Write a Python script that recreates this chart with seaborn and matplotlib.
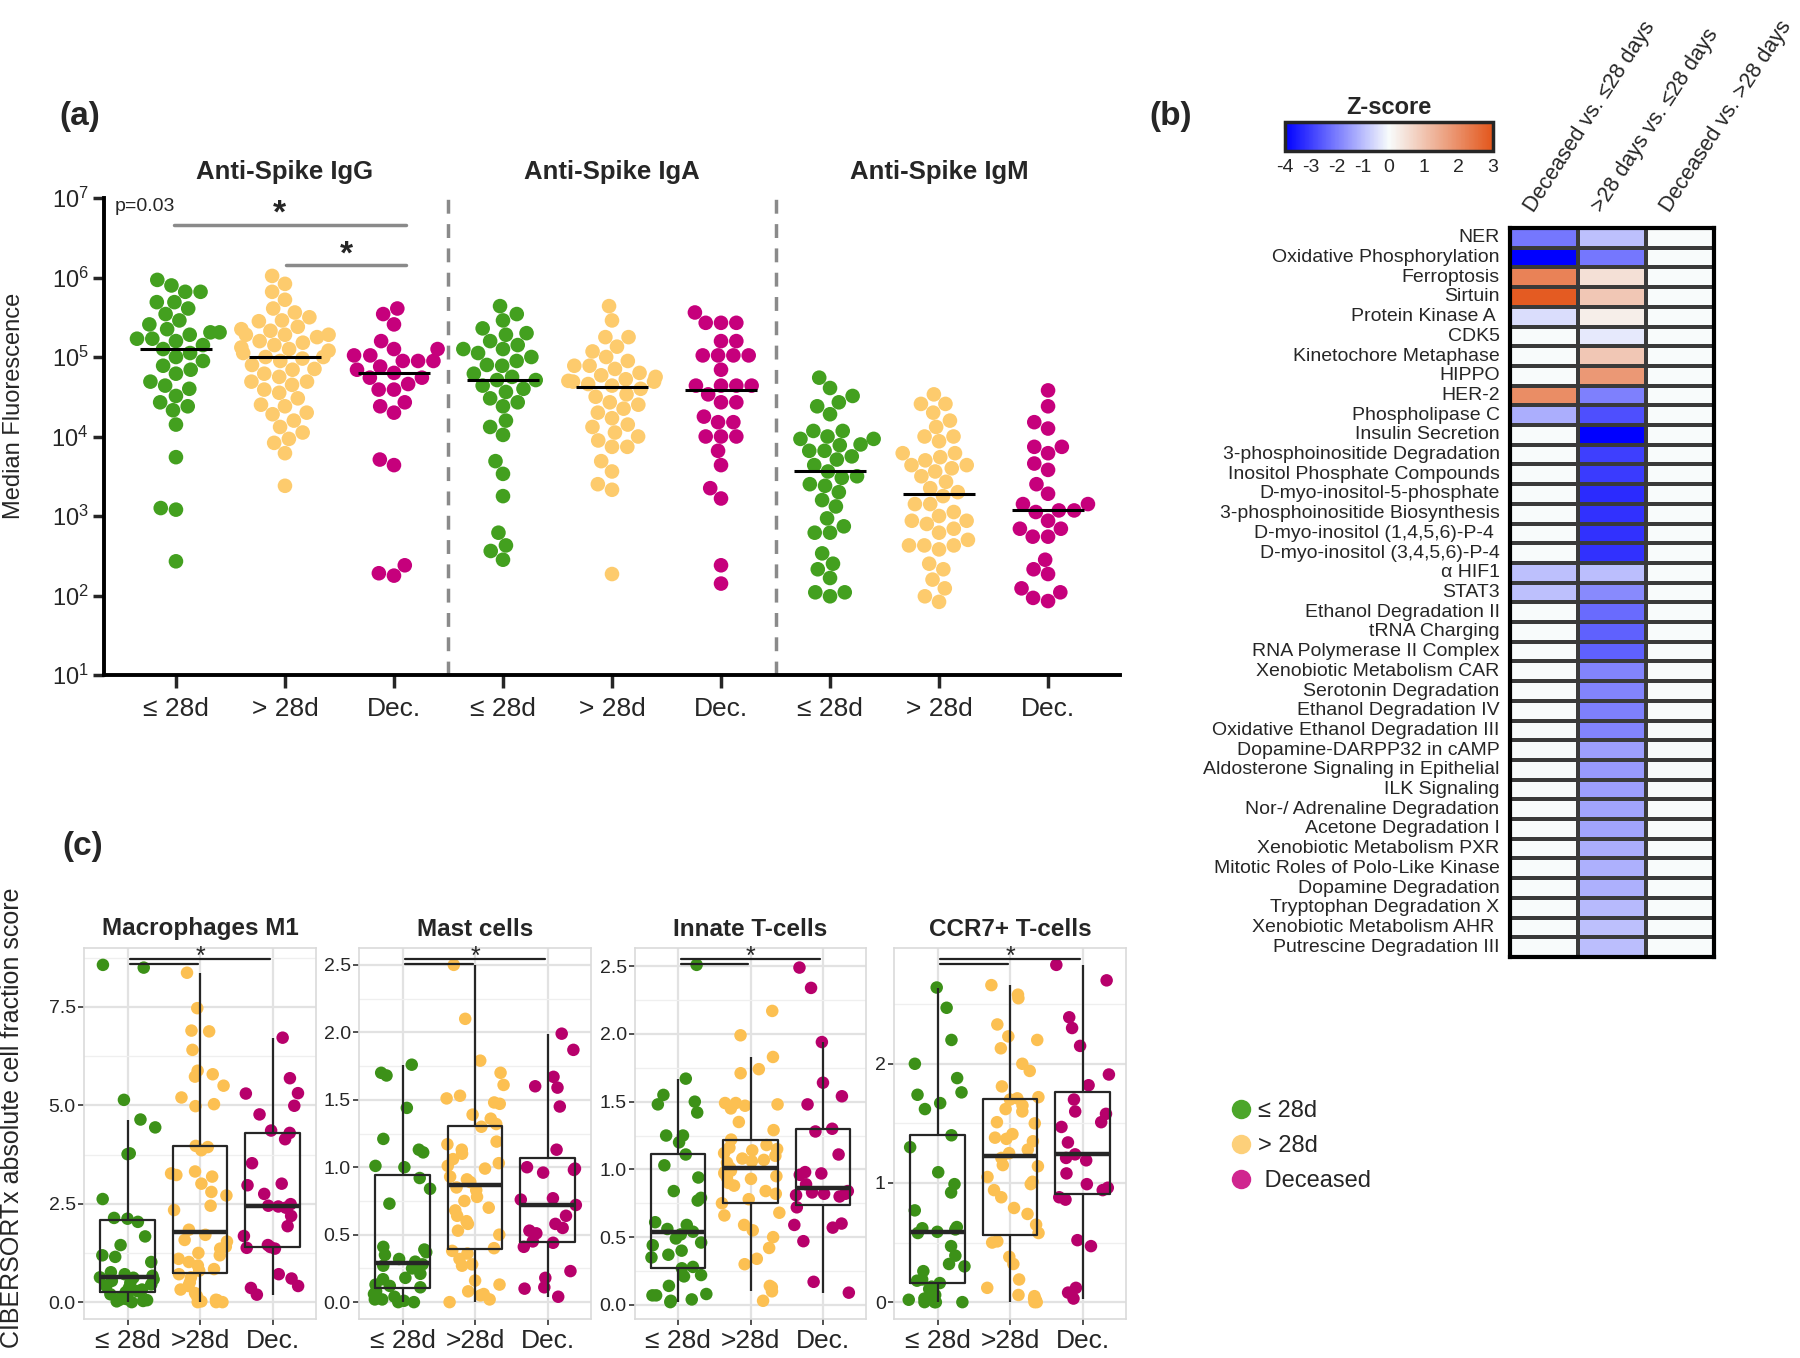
import numpy as np
import pandas as pd
import matplotlib
matplotlib.use("Agg")
import matplotlib.pyplot as plt
import matplotlib.transforms as mtransforms
from matplotlib.colors import LinearSegmentedColormap, TwoSlopeNorm
from matplotlib.cm import ScalarMappable
from matplotlib.lines import Line2D
from matplotlib.ticker import LogLocator, NullLocator, FixedLocator, FormatStrFormatter
import seaborn as sns

np.random.seed(7)

# -----------------------------
# DATA
# -----------------------------
group_keys = ["le28", "gt28", "dec"]
legend_labels = ["≤ 28d", "> 28d", " Deceased"]

# (a) anti-spike antibodies, log10(median fluorescence) per patient
antibodies = ["Anti-Spike IgG", "Anti-Spike IgA", "Anti-Spike IgM"]
a_ticklabels = ["≤ 28d", "> 28d", "Dec."]

igg_le28 = [5.97, 5.90, 5.82, 5.82, 5.69, 5.69, 5.61, 5.54, 5.46, 5.41, 5.35, 5.31, 5.31,
            5.28, 5.23, 5.23, 5.20, 5.15, 5.10, 5.05, 5.00, 4.95, 4.89, 4.84, 4.79, 4.69,
            4.64, 4.60, 4.51, 4.43, 4.38, 4.33, 4.15, 3.74, 3.10, 3.08, 2.43]
igg_gt28 = [6.02, 5.92, 5.82, 5.72, 5.61, 5.56, 5.50, 5.46, 5.45, 5.38, 5.35, 5.33, 5.28,
            5.28, 5.28, 5.25, 5.20, 5.18, 5.15, 5.12, 5.10, 5.08, 5.05, 5.00, 5.00, 4.98,
            4.95, 4.90, 4.85, 4.84, 4.79, 4.75, 4.69, 4.69, 4.65, 4.59, 4.55, 4.48, 4.40,
            4.38, 4.30, 4.28, 4.20, 4.12, 4.05, 3.97, 3.92, 3.79, 3.38]
igg_dec = [5.61, 5.54, 5.41, 5.20, 5.10, 5.10, 5.02, 5.02, 4.95, 4.95, 4.95, 4.88, 4.84,
           4.80, 4.74, 4.74, 4.66, 4.59, 4.59, 4.43, 4.38, 4.30, 3.71, 3.64, 2.38, 2.28, 2.25]

iga_le28 = [5.64, 5.54, 5.46, 5.36, 5.30, 5.28, 5.20, 5.15, 5.10, 5.10, 5.05, 5.00, 4.95,
            4.90, 4.89, 4.79, 4.75, 4.71, 4.71, 4.64, 4.60, 4.56, 4.48, 4.43, 4.38, 4.20,
            4.12, 4.02, 3.69, 3.53, 3.25, 2.79, 2.63, 2.56, 2.45]
iga_gt28 = [5.64, 5.46, 5.25, 5.25, 5.13, 5.07, 5.00, 4.95, 4.89, 4.89, 4.85, 4.80, 4.77,
            4.75, 4.72, 4.70, 4.69, 4.69, 4.66, 4.64, 4.60, 4.53, 4.50, 4.43, 4.40, 4.35,
            4.30, 4.23, 4.15, 4.12, 4.05, 4.00, 3.95, 3.87, 3.87, 3.69, 3.56, 3.40, 3.33, 2.27]
iga_dec = [5.56, 5.43, 5.43, 5.43, 5.20, 5.20, 5.02, 5.02, 5.02, 5.02, 4.84, 4.64, 4.64,
           4.64, 4.64, 4.53, 4.43, 4.43, 4.25, 4.18, 4.18, 4.00, 4.00, 4.00, 3.82, 3.64,
           3.35, 3.22, 2.38, 2.15]

igm_le28 = [4.74, 4.61, 4.51, 4.43, 4.38, 4.28, 4.07, 4.07, 4.00, 3.97, 3.97, 3.90, 3.89,
            3.82, 3.82, 3.75, 3.71, 3.64, 3.56, 3.50, 3.48, 3.40, 3.38, 3.30, 3.20, 3.12,
            2.97, 2.87, 2.79, 2.79, 2.53, 2.40, 2.33, 2.22, 2.04, 2.04, 1.99]
igm_gt28 = [4.53, 4.41, 4.41, 4.30, 4.20, 4.12, 4.00, 4.00, 3.94, 3.79, 3.79, 3.74, 3.70,
            3.64, 3.64, 3.60, 3.56, 3.50, 3.43, 3.35, 3.30, 3.25, 3.15, 3.15, 3.05, 3.00,
            2.94, 2.94, 2.90, 2.84, 2.79, 2.70, 2.63, 2.63, 2.63, 2.58, 2.40, 2.33, 2.20,
            2.09, 1.99, 1.92]
igm_dec = [4.58, 4.38, 4.18, 4.10, 3.87, 3.87, 3.79, 3.66, 3.58, 3.40, 3.28, 3.15, 3.15,
           3.07, 3.07, 3.05, 2.94, 2.84, 2.84, 2.74, 2.74, 2.45, 2.33, 2.27, 2.09, 2.04,
           1.97, 1.93]

# (b) IPA pathway z-scores
pathways = ["NER", "Oxidative Phosphorylation", "Ferroptosis", "Sirtuin", "Protein Kinase A ",
            "CDK5", "Kinetochore Metaphase", "HIPPO", "HER-2", "Phospholipase C",
            "Insulin Secretion", "3-phosphoinositide Degradation", "Inositol Phosphate Compounds",
            "D-myo-inositol-5-phosphate", "3-phosphoinositide Biosynthesis",
            "D-myo-inositol (1,4,5,6)-P-4 ", "D-myo-inositol (3,4,5,6)-P-4", "α HIF1", "STAT3",
            "Ethanol Degradation II", "tRNA Charging", "RNA Polymerase II Complex",
            "Xenobiotic Metabolism CAR", "Serotonin Degradation", "Ethanol Degradation IV",
            "Oxidative Ethanol Degradation III", "Dopamine-DARPP32 in cAMP",
            "Aldosterone Signaling in Epithelial", "ILK Signaling", "Nor-/ Adrenaline Degradation",
            "Acetone Degradation I", "Xenobiotic Metabolism PXR", "Mitotic Roles of Polo-Like Kinase",
            "Dopamine Degradation", "Tryptophan Degradation X", "Xenobiotic Metabolism AHR ",
            "Putrescine Degradation III"]
comparisons = ["Deceased vs. ≤28 days", ">28 days vs. ≤28 days", "Deceased vs. >28 days"]
z_dec_vs_le28 = [-2.1, -4.0, 2.2, 2.9, -0.5, 0.0, 0.0, 0.0, 2.0, -1.25, 0.0, 0.0, 0.0,
                 0.0, 0.0, 0.0, 0.0, -0.95, -0.95, 0.0, 0.0, 0.0, 0.0, 0.0, 0.0, 0.0,
                 0.0, 0.0, 0.0, 0.0, 0.0, 0.0, 0.0, 0.0, 0.0, 0.0, 0.0]
z_gt28_vs_le28 = [-0.95, -2.1, 0.5, 0.95, 0.25, -0.3, 0.95, 1.8, -1.95, -2.75, -4.0, -3.0, -3.05,
                  -3.3, -3.2, -3.2, -3.2, -1.0, -1.8, -2.3, -2.45, -2.45, -1.9, -1.9, -1.95, -1.9,
                  -1.5, -1.55, -1.5, -1.4, -1.4, -1.25, -1.2, -1.2, -1.05, -0.95, -1.0]
z_dec_vs_gt28 = [0.0, 0.0, 0.0, 0.0, 0.0, 0.0, 0.0, 0.0, 0.0, 0.0, 0.0, 0.0, 0.0,
                 0.0, 0.0, 0.0, 0.0, 0.0, 0.0, 0.0, 0.0, 0.0, 0.0, 0.0, 0.0, 0.0,
                 0.0, 0.0, 0.0, 0.0, 0.0, 0.0, 0.0, 0.0, 0.0, 0.0, 0.0]

# (c) CIBERSORTx absolute cell fraction scores
c_titles = ["Macrophages M1", "Mast cells", "Innate T-cells", "CCR7+ T-cells"]
c_ticklabels = ["≤ 28d", ">28d", "Dec."]

m1_le28 = [8.57, 8.50, 5.14, 4.64, 4.44, 3.78, 3.76, 2.62, 2.14, 2.12, 2.04, 1.67, 1.45, 1.19,
           1.15, 1.02, 0.76, 0.71, 0.67, 0.63, 0.62, 0.58, 0.54, 0.49, 0.45, 0.41, 0.36, 0.32,
           0.28, 0.25, 0.20, 0.15, 0.10, 0.08, 0.06, 0.05, 0.03, 0.02, 0.00]
m1_gt28 = [8.37, 7.47, 6.90, 6.88, 6.41, 5.88, 5.79, 5.73, 5.50, 5.20, 5.03, 4.98, 3.97, 3.94,
           3.86, 3.32, 3.27, 3.23, 3.19, 3.01, 2.80, 2.71, 2.45, 2.34, 1.84, 1.71, 1.58, 1.54,
           1.41, 1.36, 1.25, 1.19, 1.10, 1.02, 0.93, 0.84, 0.80, 0.71, 0.63, 0.50, 0.41, 0.32,
           0.23, 0.15, 0.06, 0.05, 0.02, 0.00, 0.00, 0.00]
m1_dec = [6.72, 5.69, 5.31, 5.30, 4.99, 4.77, 4.36, 4.30, 4.14, 3.53, 3.01, 2.97, 2.75, 2.49,
          2.45, 2.43, 2.40, 2.19, 1.93, 1.68, 1.45, 1.40, 1.38, 1.36, 0.71, 0.60, 0.41, 0.36, 0.19]

mast_le28 = [1.76, 1.70, 1.68, 1.44, 1.21, 1.13, 1.11, 1.01, 1.00, 0.92, 0.84, 0.73, 0.41, 0.39,
             0.37, 0.35, 0.32, 0.30, 0.28, 0.27, 0.25, 0.21, 0.18, 0.17, 0.13, 0.12, 0.11, 0.08,
             0.06, 0.04, 0.03, 0.02, 0.02, 0.01, 0.00, 0.00]
mast_gt28 = [2.50, 2.10, 1.79, 1.70, 1.61, 1.53, 1.51, 1.48, 1.47, 1.39, 1.36, 1.32, 1.30, 1.19,
             1.17, 1.13, 1.10, 1.06, 1.03, 1.01, 0.99, 0.93, 0.91, 0.89, 0.85, 0.83, 0.78, 0.75,
             0.70, 0.68, 0.64, 0.60, 0.58, 0.53, 0.50, 0.40, 0.38, 0.36, 0.32, 0.28, 0.27, 0.16,
             0.13, 0.08, 0.06, 0.05, 0.02, 0.00]
mast_dec = [1.99, 1.87, 1.67, 1.60, 1.59, 1.45, 1.13, 1.00, 0.99, 0.98, 0.96, 0.77, 0.76, 0.72,
            0.64, 0.58, 0.55, 0.53, 0.51, 0.45, 0.44, 0.41, 0.23, 0.18, 0.11, 0.10, 0.04]

innate_le28 = [2.51, 1.67, 1.55, 1.50, 1.48, 1.42, 1.25, 1.25, 1.20, 1.11, 1.03, 0.94, 0.84,
               0.79, 0.77, 0.61, 0.59, 0.56, 0.54, 0.52, 0.49, 0.46, 0.44, 0.40, 0.37, 0.35,
               0.28, 0.27, 0.22, 0.21, 0.14, 0.08, 0.07, 0.07, 0.04, 0.03, 0.02]
innate_gt28 = [2.17, 1.99, 1.83, 1.74, 1.71, 1.49, 1.49, 1.48, 1.47, 1.45, 1.35, 1.29, 1.22,
               1.18, 1.16, 1.15, 1.14, 1.12, 1.10, 1.08, 1.07, 1.06, 1.05, 1.03, 1.01, 0.99,
               0.98, 0.97, 0.95, 0.94, 0.93, 0.90, 0.88, 0.84, 0.82, 0.78, 0.75, 0.68, 0.66,
               0.59, 0.55, 0.50, 0.42, 0.34, 0.30, 0.14, 0.13, 0.10, 0.03]
innate_dec = [2.49, 2.34, 1.94, 1.64, 1.54, 1.48, 1.30, 1.28, 1.11, 0.98, 0.97, 0.96, 0.89,
              0.84, 0.83, 0.82, 0.82, 0.81, 0.80, 0.72, 0.60, 0.59, 0.57, 0.47, 0.17, 0.09]

ccr7_le28 = [2.64, 2.47, 2.20, 2.00, 1.88, 1.76, 1.74, 1.67, 1.62, 1.40, 1.30, 1.09, 0.99, 0.92,
             0.77, 0.63, 0.62, 0.61, 0.59, 0.58, 0.47, 0.39, 0.32, 0.30, 0.26, 0.19, 0.18, 0.16,
             0.13, 0.11, 0.06, 0.03, 0.02, 0.00, 0.00, 0.00, 0.00]
ccr7_gt28 = [2.66, 2.58, 2.55, 2.33, 2.23, 2.20, 2.13, 2.00, 1.94, 1.81, 1.72, 1.71, 1.70, 1.65,
             1.62, 1.60, 1.51, 1.50, 1.41, 1.38, 1.37, 1.35, 1.28, 1.25, 1.21, 1.15, 1.14, 1.05,
             1.01, 0.99, 0.94, 0.88, 0.79, 0.74, 0.65, 0.58, 0.51, 0.50, 0.38, 0.32, 0.19, 0.12,
             0.06, 0.05, 0.03, 0.02, 0.00, 0.00]
ccr7_dec = [2.83, 2.70, 2.39, 2.30, 2.15, 1.91, 1.82, 1.70, 1.60, 1.58, 1.51, 1.47, 1.34, 1.24,
            1.21, 1.19, 1.08, 0.99, 0.96, 0.94, 0.88, 0.86, 0.52, 0.47, 0.12, 0.08, 0.03]

# -----------------------------
# STYLE
# -----------------------------
sns.set_style("white")
plt.rcParams["font.family"] = ["Liberation Sans", "DejaVu Sans"]
plt.rcParams["mathtext.default"] = "regular"
plt.rcParams["axes.unicode_minus"] = False

pal_a = {"le28": "#43A01F", "gt28": "#FDCB6D", "dec": "#C6007C"}
pal_c = {"le28": "#3C9118", "gt28": "#FCC052", "dec": "#B7006B"}
pal_legend = ["#4CA62A", "#FDD07A", "#D0268F"]

W, H = 1800, 1358
fig = plt.figure(figsize=(W / 100, H / 100), dpi=100)


def px_axes(x0, y0, x1, y1):
    return fig.add_axes([x0 / W, 1 - y1 / H, (x1 - x0) / W, (y1 - y0) / H])


# -----------------------------
# (a) SWARM PLOTS
# -----------------------------
a_series = [igg_le28, igg_gt28, igg_dec, iga_le28, iga_gt28, iga_dec, igm_le28, igm_gt28, igm_dec]
slots = [f"{ab}|{g}" for ab in antibodies for g in group_keys]
df_a = pd.DataFrame({
    "slot": np.repeat(slots, [len(s) for s in a_series]),
    "group": np.repeat(group_keys * 3, [len(s) for s in a_series]),
    "mfi": 10 ** np.concatenate(a_series),
})

ax_a = px_axes(104, 198, 1120, 675)
ax_a.set_yscale("log")
sns.swarmplot(data=df_a, x="slot", y="mfi", hue="group", order=slots, hue_order=group_keys,
              palette=pal_a, size=10.5, linewidth=0, legend=False, ax=ax_a)

for i, vals in enumerate(a_series):
    ax_a.hlines(10 ** np.median(vals), i - 0.33, i + 0.33, color="black", lw=2.2, zorder=5)

ax_a.set_xlim(-0.66, 8.66)
ax_a.set_ylim(10, 1e7)
ax_a.yaxis.set_major_locator(LogLocator(base=10, numticks=10))
ax_a.yaxis.set_minor_locator(NullLocator())
ax_a.set_xticks(range(9))
ax_a.set_xticklabels(a_ticklabels * 3, fontsize=19)
ax_a.tick_params(axis="y", labelsize=17, length=8, width=2.5, direction="out", left=True, pad=3)
ax_a.tick_params(axis="x", length=9, width=2.5, direction="out", bottom=True, pad=7)
ax_a.set_xlabel("")
ax_a.set_ylabel("")
sns.despine(ax=ax_a)
for side in ["left", "bottom"]:
    ax_a.spines[side].set_linewidth(2.8)
    ax_a.spines[side].set_color("black")

for x in [2.5, 5.5]:
    ax_a.axvline(x, ymin=0, ymax=1.0, color="#8a8a8a", lw=2.5, ls=(0, (4, 3)))

top = mtransforms.blended_transform_factory(ax_a.transData, ax_a.transAxes)
for k, ab in enumerate(antibodies):
    ax_a.text(3 * k + 1, 1.055, ab, transform=top, ha="center", va="center",
              fontsize=18.5, fontweight="bold")

ax_a.plot([-0.02, 2.11], [10 ** 6.66, 10 ** 6.66], color="#8a8a8a", lw=2.5)
ax_a.plot([1.01, 2.11], [10 ** 6.16, 10 ** 6.16], color="#8a8a8a", lw=2.5)
ax_a.text(0.95, 10 ** 6.80, "*", ha="center", va="center", fontsize=24, fontweight="bold")
ax_a.text(1.56, 10 ** 6.28, "*", ha="center", va="center", fontsize=24, fontweight="bold")
ax_a.text(-0.56, 10 ** 6.89, "p=0.03", ha="left", va="center", fontsize=14)

fig.text(14 / W, 1 - 406 / H, "Median Fluorescence", rotation=90, ha="center", va="center",
         fontsize=17)

# -----------------------------
# (b) PATHWAY HEATMAP
# -----------------------------
heat_df = pd.DataFrame({comparisons[0]: z_dec_vs_le28,
                        comparisons[1]: z_gt28_vs_le28,
                        comparisons[2]: z_dec_vs_gt28}, index=pathways)
zcmap = LinearSegmentedColormap.from_list("zscore", ["#0000FF", "#F8FCFC", "#E3561B"])
znorm = TwoSlopeNorm(vmin=-4, vcenter=0, vmax=3)

ax_h = px_axes(1510, 228, 1714, 957)
sns.heatmap(heat_df, ax=ax_h, cmap=zcmap, norm=znorm, cbar=False, linewidths=1.5,
            linecolor="#3a3a3a", xticklabels=False, yticklabels=True)
ax_h.set_yticklabels(pathways, rotation=0, fontsize=14,
                     family=["Liberation Sans Narrow", "Liberation Sans"])
ax_h.tick_params(left=False, bottom=False, pad=4)
for sp in ax_h.spines.values():
    sp.set_visible(True)
    sp.set_linewidth(3)
    sp.set_color("black")

label_tr = mtransforms.offset_copy(ax_h.transData, fig=fig, x=-6, y=12, units="dots")
for j, name in enumerate(comparisons):
    ax_h.text(j + 0.5, 0, name, transform=label_tr, rotation=57, rotation_mode="anchor",
              ha="left", va="bottom", fontsize=15.5)

cax = px_axes(1285, 122, 1493, 151)
cb = fig.colorbar(ScalarMappable(norm=znorm, cmap=zcmap), cax=cax, orientation="horizontal",
                  ticks=list(range(-4, 4)))
cb.outline.set_linewidth(2.5)
cax.tick_params(direction="in", top=True, bottom=True, length=5, width=1.5, labelsize=14, pad=6)
cax.set_title("Z-score", fontsize=17, fontweight="bold", pad=6)

# -----------------------------
# (c) CIBERSORTx BOX PLOTS
# -----------------------------
c_series = [[m1_le28, m1_gt28, m1_dec],
            [mast_le28, mast_gt28, mast_dec],
            [innate_le28, innate_gt28, innate_dec],
            [ccr7_le28, ccr7_gt28, ccr7_dec]]
c_yticks = [[0, 2.5, 5.0, 7.5], [0, 0.5, 1.0, 1.5, 2.0, 2.5],
            [0, 0.5, 1.0, 1.5, 2.0, 2.5], [0, 1, 2]]
c_fmt = ["%.1f", "%.1f", "%.1f", "%d"]
c_columns = [(84, 316), (359, 591), (635, 866), (894, 1126)]

for k, title in enumerate(c_titles):
    series = c_series[k]
    ax = px_axes(c_columns[k][0], 948, c_columns[k][1], 1319)
    df = pd.DataFrame({"group": np.repeat(group_keys, [len(s) for s in series]),
                       "score": np.concatenate(series)})
    sns.stripplot(data=df, x="group", y="score", hue="group", order=group_keys,
                  hue_order=group_keys, palette=pal_c, jitter=0.4, size=9, linewidth=0,
                  legend=False, ax=ax, zorder=2)
    sns.boxplot(data=df, x="group", y="score", order=group_keys, fill=False, color="#262626",
                width=0.75, linewidth=1.6, showfliers=False, showcaps=False,
                medianprops={"linewidth": 3.2}, ax=ax, zorder=3)

    lo, hi = df["score"].min(), df["score"].max()
    pad = 0.05 * (hi - lo)
    ax.set_ylim(lo - pad, hi + pad)
    ax.set_xlim(-0.6, 2.6)
    ticks = c_yticks[k]
    ax.set_yticks(ticks)
    ax.yaxis.set_major_formatter(FormatStrFormatter(c_fmt[k]))
    step = ticks[1] - ticks[0]
    ax.yaxis.set_minor_locator(FixedLocator([t + step / 2 for t in [ticks[0] - step] + ticks]))
    ax.set_xticks([0, 1, 2])
    ax.set_xticklabels(c_ticklabels, fontsize=19)
    ax.set_xlabel("")
    ax.set_ylabel("")
    ax.set_axisbelow(True)
    ax.grid(True, which="major", color="#E2E2E2", lw=1.6)
    ax.grid(True, which="minor", axis="y", color="#EFEFEF", lw=0.9)
    ax.tick_params(which="major", length=4, width=1.2, color="#333333", labelsize=14,
                   left=True, bottom=True, pad=2)
    ax.tick_params(axis="x", labelsize=19, pad=3)
    ax.tick_params(which="minor", length=0)
    for sp in ax.spines.values():
        sp.set_color("#DADADA")
        sp.set_linewidth(1.2)
    ax.set_title(title, fontsize=17.5, fontweight="bold", pad=9)

    tr = mtransforms.blended_transform_factory(ax.transData, ax.transAxes)
    ax.plot([0.04, 1.96], [0.9695, 0.9695], transform=tr, color="#222222", lw=1.6, clip_on=False)
    ax.plot([0.04, 0.97], [0.957, 0.957], transform=tr, color="#222222", lw=1.6, clip_on=False)
    ax.text(1.0, 1.008, "*", transform=tr, ha="center", va="top", fontsize=18)

fig.text(12 / W, 1 - 1118 / H, "CIBERSORTx absolute cell fraction score", rotation=90,
         ha="center", va="center", fontsize=18)

# legend
handles = [Line2D([], [], marker="o", ls="", markersize=14, markerfacecolor=c,
                  markeredgecolor="none") for c in pal_legend]
fig.legend(handles, legend_labels, loc="center left", bbox_to_anchor=(1208 / W, 1 - 1146 / H),
           frameon=False, fontsize=17, labelspacing=0.55, handletextpad=0.2, handlelength=1.0)

# panel labels
for lab, (x, y) in {"(a)": (80, 117), "(b)": (1171, 117), "(c)": (83, 847)}.items():
    fig.text(x / W, 1 - y / H, lab, ha="center", va="center", fontsize=24, fontweight="bold")

fig.savefig("out.png", dpi=100)
